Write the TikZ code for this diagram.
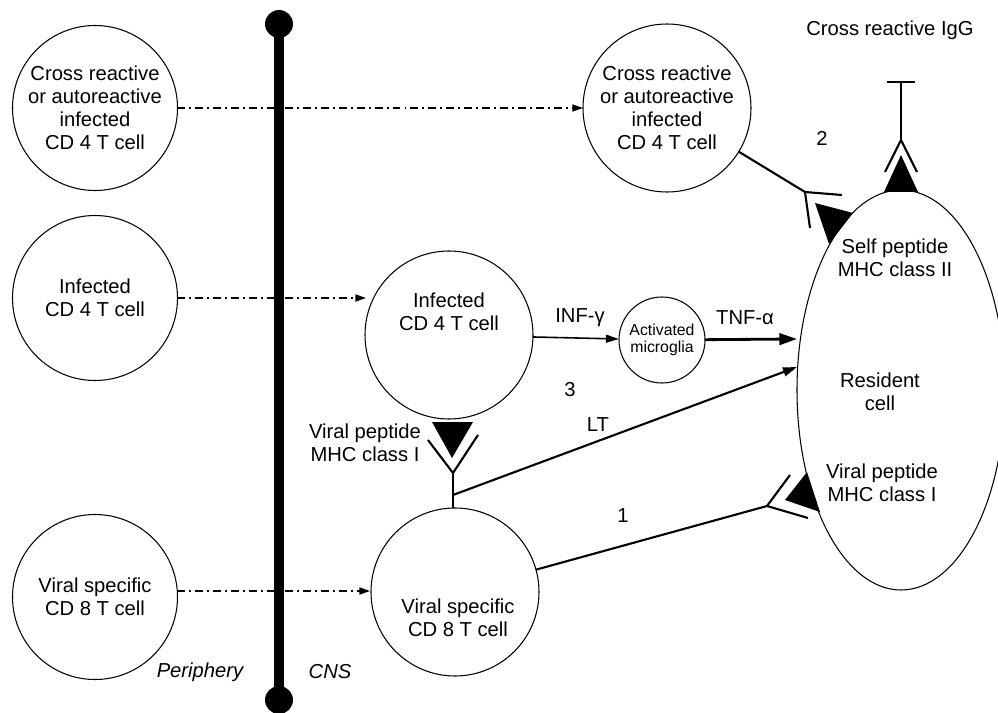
\documentclass[tikz,border=0pt]{standalone}
\usepackage{fontspec}
\setmainfont{Liberation Sans}
\usetikzlibrary{shapes.geometric,arrows.meta}
\begin{document}
\begin{tikzpicture}[x=0.02cm,y=-0.02cm,
  cell/.style={circle,draw,line width=0.6pt,inner sep=0pt,outer sep=0pt,align=center,font=\fontsize{11.5}{13}\selectfont},
  lbl/.style={font=\fontsize{11.5}{13}\selectfont,align=center,inner sep=0pt},
  recp/.style={line width=1.2pt},
  dd/.style={line width=0.8pt,dash pattern=on 4.5pt off 2.3pt on 1.1pt off 2.3pt,-{Triangle[length=6pt,width=4pt]}},
  ball/.style={circle,fill=black,inner sep=0pt,minimum size=0.56cm}]
\useasboundingbox (0,0) rectangle (998,713);
% barrier
\node[ball] (ballT) at (279,24) {};
\node[ball] (ballB) at (279,700) {};
\draw[line width=5.7pt] (ballT.center) -- (ballB.center);
\node[lbl,font=\fontsize{11.5}{13}\selectfont\itshape] (per) at (200,672) {Periphery};
\node[lbl,font=\fontsize{11.5}{13}\selectfont\itshape] (cns) at (330,672) {CNS};
% periphery cells
\node[cell,minimum size=165*0.02cm] (c1) at (95,108) {Cross reactive\\or autoreactive\\infected\\CD 4 T cell};
\node[cell,minimum size=165*0.02cm] (c2) at (95,298) {Infected\\CD 4 T cell};
\node[cell,minimum size=165*0.02cm] (c3) at (95,597) {Viral specific\\CD 8 T cell};
% CNS cells
\node[cell,minimum size=168*0.02cm] (m1) at (667,108) {Cross reactive\\or autoreactive\\infected\\CD 4 T cell};
\node[cell,minimum size=168*0.02cm] (m2) at (449,335) {};
\node[lbl] (m2t) at (449,312) {Infected\\CD 4 T cell};
\node[cell,minimum size=168*0.02cm] (m3) at (455,592) {};
\node[lbl] (m3t) at (458,618) {Viral specific\\CD 8 T cell};
\node[cell,minimum size=86*0.02cm,font=\fontsize{9}{10}\selectfont] (mg) at (662,340) {Activated\\microglia};
\node[ellipse,draw,line width=0.6pt,inner sep=0pt,outer sep=0pt,minimum width=208*0.02cm,minimum height=400*0.02cm] (res) at (901,390) {};
\node[lbl] (rest) at (880,392) {Resident\\cell};
\node[lbl] (selft) at (895,258) {Self peptide\\MHC class II};
\node[lbl] (virt) at (882,483) {Viral peptide\\MHC class I};
% migration
\draw[dd] (c1.east) -- (m1.west);
\coordinate (e2) at (366,298);
\draw[dd] (c2.east) -- (e2);
\coordinate (e3) at (370,591);
\draw[dd] (c3.east |- e3) -- (e3);
% cytokines
\draw[line width=0.9pt,-{Triangle[length=7.5pt,width=4.5pt]}] (m2) -- (mg);
\node[lbl] (inf) at (580,318) {INF-γ};
\coordinate (tnfend) at (797,339);
\draw[line width=1.6pt,-{Triangle[length=10pt,width=6.5pt]}] (mg) -- (tnfend);
\node[lbl] (tnf) at (745,318) {TNF-α};
% receptor 2 (top)
\coordinate (j1) at (805,192);
\draw[recp] (m1) -- (j1);
\draw[recp] (j1) -- ++(37,3);
\draw[recp] (j1) -- ++(5,36);
\fill (815,203) -- (853,213) -- (829,244) -- cycle;
\node[lbl] (n2) at (822,138) {2};
% IgG
\coordinate (jg) at (901,140);
\coordinate (gt) at (901,82);
\draw[recp] (gt) -- (jg);
\draw[recp] ([xshift=-8]gt) -- ([xshift=8]gt);
\draw[recp] (jg) -- ++(-16,32);
\draw[recp] (jg) -- ++(16,32);
\fill (901,155) -- (918,192) -- (884,192) -- cycle;
\node[lbl] (igg) at (890,30) {Cross reactive IgG};
% receptor 3 (CD4 - CD8)
\fill (432,422) -- (473,422) -- (452,458) -- cycle;
\coordinate (j3) at (453,473);
\draw[recp] (428,440) -- (j3) -- (478,435);
\draw[recp] (j3) -- (m3.north -| j3);
\coordinate (lts) at (453,495);
\coordinate (lte) at (797,367);
\draw[recp,-{Triangle[length=8pt,width=5pt]}] (lts) -- (lte);
\node[lbl] (vpl) at (365,443) {Viral peptide\\MHC class I};
\node[lbl] (n3) at (570,390) {3};
\node[lbl] (lt) at (598,425) {LT};
% receptor 1 (CD8 - resident)
\coordinate (j4) at (767,506);
\draw[recp] (m3) -- (j4);
\draw[recp] (j4) -- ++(23,-31);
\draw[recp] (j4) -- ++(41,12);
\fill (785,500) -- (807,472) -- (820,512) -- cycle;
\node[lbl] (n1) at (623,516) {1};
\end{tikzpicture}
\end{document}
